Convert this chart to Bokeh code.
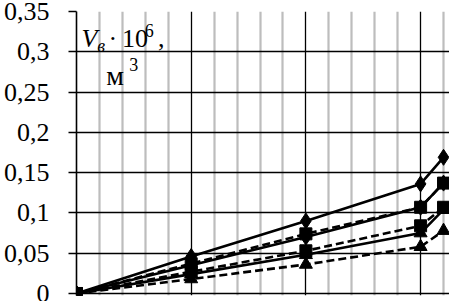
from bokeh.plotting import figure
from bokeh.models import FixedTicker, CustomJSTickFormatter, Label
from bokeh.embed import file_html
from bokeh.resources import INLINE

# ---- data ----
x_vals = [0, 5, 10, 15, 16]
s_diamond_solid = [0, 0.046, 0.090, 0.136, 0.169]
s_diamond_solid2 = [0, 0.035, 0.070, 0.107, 0.137]
s_square_dashed = [0, 0.037, 0.074, 0.107, 0.137]
s_square_dashed2 = [0, 0.027, 0.053, 0.084, 0.107]
s_triangle_solid = [0, 0.024, 0.048, 0.075, 0.104]
s_triangle_dashed = [0, 0.018, 0.036, 0.058, 0.078]

y_ticks = [0, 0.05, 0.10, 0.15, 0.20, 0.25, 0.30, 0.35]
x_major = [0, 5, 10, 15]
x_minor = [1, 2, 3, 4, 6, 7, 8, 9, 11, 12, 13, 14, 16]

FONT = "Liberation Serif"

p = figure(width=449, height=301, x_range=(0, 16.26), y_range=(-0.0025, 0.35),
           output_backend="svg", toolbar_location=None,
           min_border_left=75, min_border_right=0, min_border_top=11, min_border_bottom=6)
p.outline_line_color = None
p.background_fill_color = "white"

# grids
p.xgrid.ticker = FixedTicker(ticks=x_major, minor_ticks=x_minor)
p.xgrid.grid_line_color = "black"
p.xgrid.grid_line_width = 1.3
p.xgrid.minor_grid_line_color = "#bdbdbd"
p.xgrid.minor_grid_line_width = 2.2
p.xaxis.visible = False

p.ygrid.ticker = FixedTicker(ticks=y_ticks)
p.ygrid.grid_line_color = "black"
p.ygrid.grid_line_width = 1.4

# y axis
p.yaxis.ticker = FixedTicker(ticks=y_ticks)
p.yaxis.formatter = CustomJSTickFormatter(code="return String(Math.round(tick*100)/100).replace('.', ',');")
p.yaxis.major_label_text_font = FONT
p.yaxis.major_label_text_font_size = "26px"
p.yaxis.major_label_text_color = "black"
p.yaxis.major_label_standoff = 19
p.yaxis.major_tick_out = 8
p.yaxis.major_tick_in = 0
p.yaxis.major_tick_line_color = "black"
p.yaxis.major_tick_line_width = 1.4
p.yaxis.minor_tick_line_color = None
p.yaxis.axis_line_color = "black"
p.yaxis.axis_line_width = 1.6

# series
series = [
    (s_triangle_dashed, "dashed", "triangle", 13),
    (s_triangle_solid, "solid", "triangle", 13),
    (s_square_dashed2, "dashed", "square", 12),
    (s_diamond_solid2, "solid", "diamond", 16),
    (s_square_dashed, "dashed", "square", 12),
    (s_diamond_solid, "solid", "diamond", 16),
]
for ys, dash, mk, sz in series:
    p.line(x_vals, ys, line_color="black", line_width=2.6,
           line_dash=("8 4" if dash == "dashed" else "solid"))
    p.scatter(x_vals, ys, marker=mk, size=sz, fill_color="black", line_color="black")

# axis title inside the plot
def lab(x, y, t, size, style="normal"):
    p.add_layout(Label(x=x, y=y, text=t, text_font=FONT, text_font_size=size,
                       text_font_style=style, text_color="black",
                       text_baseline="alphabetic", text_align="left"))

lab(0.22, 0.3165, "V", "26px", "italic")
lab(0.9, 0.3066, "в", "18px", "italic")
lab(1.4, 0.3165, "·", "26px")
lab(1.98, 0.3165, "10", "26px")
lab(2.98, 0.326, "6", "18px")
lab(3.55, 0.3165, ",", "26px")
lab(1.30, 0.2706, "м", "28px")
lab(2.3, 0.284, "3", "18px")

open("out.html", "w").write(file_html(p, INLINE))
